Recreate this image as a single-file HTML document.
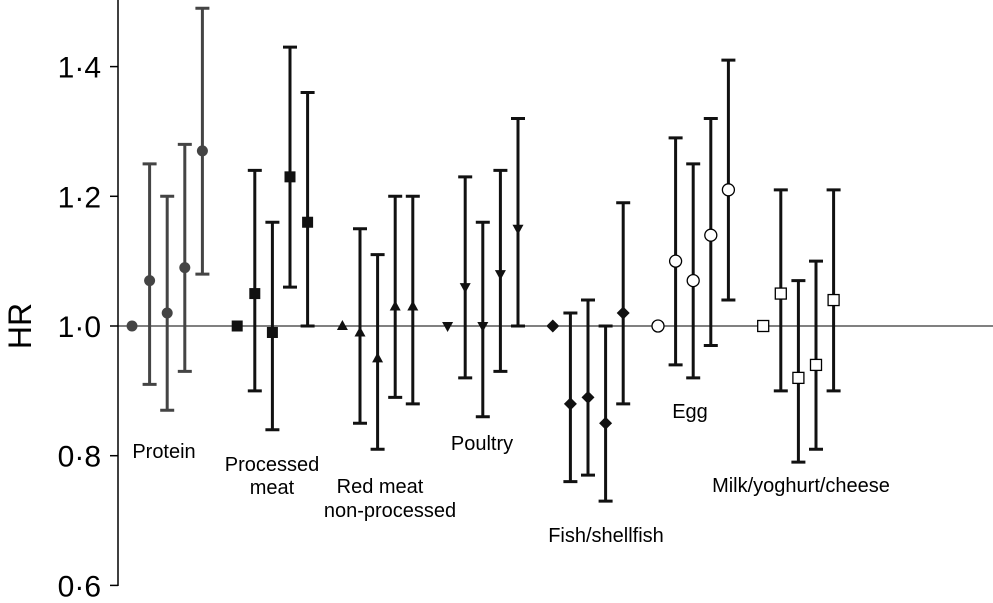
<!DOCTYPE html>
<html><head><meta charset="utf-8"><style>
body{margin:0;background:#fff;}
svg text{font-family:"Liberation Sans",sans-serif;}
</style></head><body>
<svg id="chart" width="993" height="598" viewBox="0 0 993 598" xmlns="http://www.w3.org/2000/svg">
<g id="axis"></g>
<g id="marks"></g>
<g id="labels"></g>
</svg>
<script>
const groups = ["Protein","Processed meat","Red meat non-processed","Poultry","Fish/shellfish","Egg","Milk/yoghurt/cheese"];
const markers = ["circle","square","triangle","invtriangle","diamond","opencircle","opensquare"];
const hrValues = [
 [1.00,1.07,1.02,1.09,1.27],
 [1.00,1.05,0.99,1.23,1.16],
 [1.00,0.99,0.95,1.03,1.03],
 [1.00,1.06,1.00,1.08,1.15],
 [1.00,0.88,0.89,0.85,1.02],
 [1.00,1.10,1.07,1.14,1.21],
 [1.00,1.05,0.92,0.94,1.04]
];
const lowerCI = [
 [null,0.91,0.87,0.93,1.08],
 [null,0.90,0.84,1.06,1.00],
 [null,0.85,0.81,0.89,0.88],
 [null,0.92,0.86,0.93,1.00],
 [null,0.76,0.77,0.73,0.88],
 [null,0.94,0.92,0.97,1.04],
 [null,0.90,0.79,0.81,0.90]
];
const upperCI = [
 [null,1.25,1.20,1.28,1.49],
 [null,1.24,1.16,1.43,1.36],
 [null,1.15,1.11,1.20,1.20],
 [null,1.23,1.16,1.24,1.32],
 [null,1.02,1.04,1.00,1.19],
 [null,1.29,1.25,1.32,1.41],
 [null,1.21,1.07,1.10,1.21]
];
const yTicks = [0.6,0.8,1.0,1.2,1.4];
const yTickLabels = ["0·6","0·8","1·0","1·2","1·4"];

const NS="http://www.w3.org/2000/svg";
function y(v){return 326-(v-1.0)*648.5;}
function x(g,i){return 132+g*105.2+i*17.6;}
function mk(tag,attrs,parent){const e=document.createElementNS(NS,tag);for(const k in attrs)e.setAttribute(k,attrs[k]);parent.appendChild(e);return e;}

const axis=document.getElementById('axis');
let l=mk('line',{x1:118,y1:0,x2:118,y2:586,stroke:'#000','stroke-width':1.5},axis);


yTicks.forEach((t,i)=>{
 let tk=mk('line',{x1:110,y1:y(t),x2:118,y2:y(t),stroke:'#000','stroke-width':1.5},axis);
 
 
 let tx=mk('text',{x:101,y:y(t)+11,'text-anchor':'end','font-size':30},axis);
 tx.textContent=yTickLabels[i];
 
 
});
let ref=mk('line',{x1:118,y1:y(1.0),x2:993,y2:y(1.0),stroke:'#000','stroke-width':1},axis);


let ttl=mk('text',{x:0,y:0,'font-size':32,'text-anchor':'middle',transform:'translate(31,326) rotate(-90)'},axis);
ttl.textContent='HR';



const marks=document.getElementById('marks');
hrValues.forEach((arr,g)=>{
 const col=g===0?'#444':'#111';
 arr.forEach((v,i)=>{
  const cx=x(g,i), cy=y(v);
  if(lowerCI[g][i]!==null){
   const y1=y(upperCI[g][i]), y2=y(lowerCI[g][i]);
   let eb=mk('path',{d:`M${cx},${y1}V${y2}M${cx-7},${y1}H${cx+7}M${cx-7},${y2}H${cx+7}`,stroke:col,'stroke-width':3,fill:'none'},marks);
   
   
  }
  let m, t=markers[g];
  if(t==='circle') m=mk('circle',{cx,cy,r:5.5,fill:col},marks);
  else if(t==='opencircle') m=mk('circle',{cx,cy,r:6,fill:'#fff',stroke:'#000','stroke-width':1.3},marks);
  else if(t==='square') m=mk('rect',{x:cx-5.5,y:cy-5.5,width:11,height:11,fill:col},marks);
  else if(t==='opensquare') m=mk('rect',{x:cx-5.5,y:cy-5.5,width:11,height:11,fill:'#fff',stroke:'#000','stroke-width':1.3},marks);
  else if(t==='triangle') m=mk('path',{d:`M${cx},${cy-6}L${cx+5.5},${cy+4}L${cx-5.5},${cy+4}Z`,fill:col},marks);
  else if(t==='invtriangle') m=mk('path',{d:`M${cx},${cy+6}L${cx+5.5},${cy-4}L${cx-5.5},${cy-4}Z`,fill:col},marks);
  else m=mk('path',{d:`M${cx},${cy-6.5}L${cx+6.5},${cy}L${cx},${cy+6.5}L${cx-6.5},${cy}Z`,fill:col},marks);
  
  
 });
});

const labelSpecs=[["Protein",164,458],["Processed",272,471],["meat",272,494],["Red meat",380,493],["non-processed",390,517],["Poultry",482,450],["Fish/shellfish",606,542],["Egg",690,418],["Milk/yoghurt/cheese",801,492]];
const lab=document.getElementById('labels');
labelSpecs.forEach(s=>{
 let t=mk('text',{x:s[1],y:s[2],'text-anchor':'middle','font-size':20},lab);
 t.textContent=s[0];
 
 
});
</script>
</body></html>
